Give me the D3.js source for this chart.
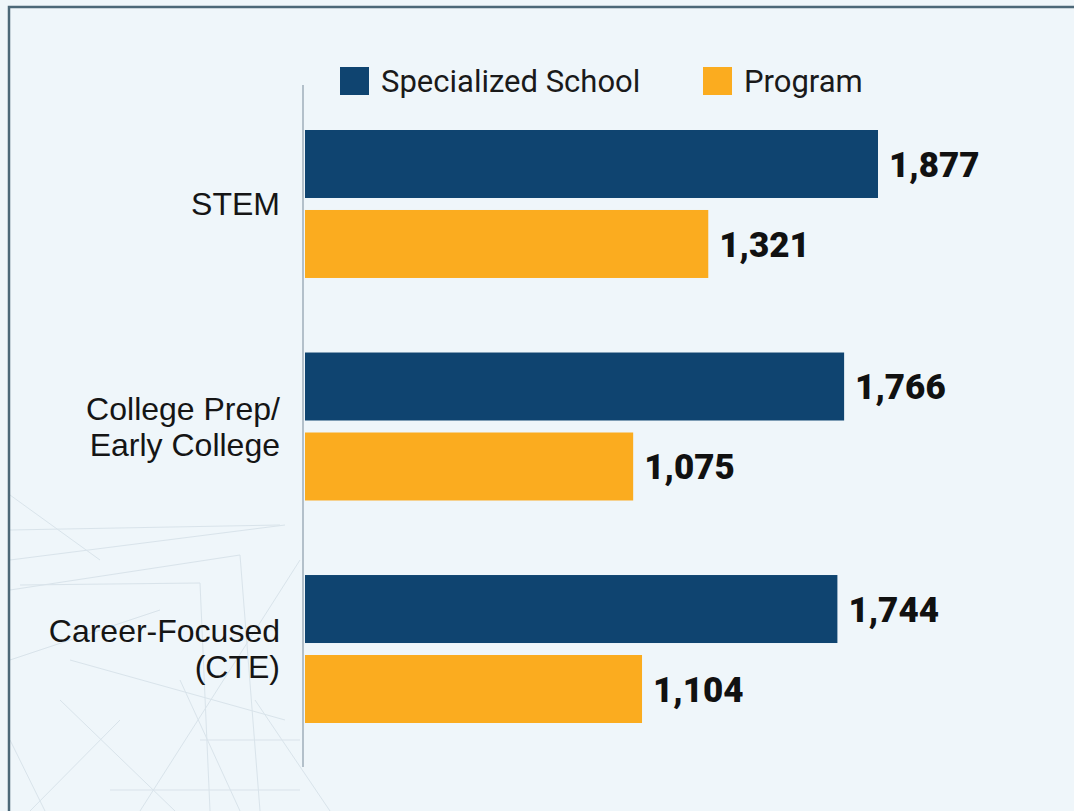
<!DOCTYPE html>
<html>
<head>
<meta charset="utf-8">
<script src="https://cdn.jsdelivr.net/npm/d3@7"></script>
<style>
  html, body { margin: 0; padding: 0; background: #eff6fa; }
  svg { display: block; }
</style>
</head>
<body>
<div id="chart"></div>
<script>
// Data
const categories = ["STEM", "College Prep/\nEarly College", "Career-Focused\n(CTE)"];
const seriesNames = ["Specialized School", "Program"];
const specializedValues = [1877, 1766, 1744];
const programValues = [1321, 1075, 1104];
const seriesColors = ["#0f4470", "#fbac1f"];

const dataset = categories.map((c, i) => ({
  category: c,
  values: [specializedValues[i], programValues[i]],
}));

// Dimensions
let dimensions = {
  width: 1074,
  height: 811,
  left: 305,
  right: 878,
  top: 130,
  bottom: 723,
};

const svg = d3
  .select("#chart")
  .append("svg")
  .attr("width", dimensions.width)
  .attr("height", dimensions.height);

// Background + frame
svg
  .append("rect")
  .attr("width", dimensions.width)
  .attr("height", dimensions.height)
  .attr("fill", "#eff6fa");

// faint decorative lines bottom-left
const deco = svg.append("g").attr("stroke", "#cbd8e1").attr("stroke-width", 1).attr("fill", "none").attr("opacity", 0.6);
[
  [[10, 495], [100, 560]], [[10, 530], [280, 525]], [[10, 560], [285, 525]],
  [[20, 585], [200, 583]], [[200, 583], [210, 811]], [[10, 590], [240, 555]],
  [[60, 700], [175, 811]], [[10, 740], [45, 811]], [[70, 660], [285, 720]],
  [[180, 680], [240, 811]], [[240, 555], [260, 811]], [[110, 790], [300, 790]],
  [[140, 811], [300, 560]], [[10, 660], [160, 610]], [[255, 700], [330, 811]],
  [[30, 811], [120, 720]], [[200, 740], [300, 740]]
].forEach((p) => deco.append("line")
  .attr("x1", p[0][0]).attr("y1", p[0][1]).attr("x2", p[1][0]).attr("y2", p[1][1]));

svg
  .append("path")
  .attr("d", "M9,820 L9,7 L1080,7")
  .attr("fill", "none")
  .attr("stroke", "#4c6878")
  .attr("stroke-width", 2.5);

// Scales
const yScale = d3
  .scaleBand()
  .domain(categories)
  .range([dimensions.top, dimensions.bottom])
  .paddingInner(0.335)
  .paddingOuter(0);

const subScale = d3
  .scaleBand()
  .domain(d3.range(seriesNames.length))
  .range([0, yScale.bandwidth()])
  .paddingInner(0.15);

const xScale = d3
  .scaleLinear()
  .domain([0, d3.max(specializedValues)])
  .range([dimensions.left, dimensions.right]);

// Axis line
svg
  .append("line")
  .attr("x1", dimensions.left - 2)
  .attr("x2", dimensions.left - 2)
  .attr("y1", 85)
  .attr("y2", 767)
  .attr("stroke", "#b3c0ca")
  .attr("stroke-width", 2);

// Bars
const groups = svg
  .selectAll(".group")
  .data(dataset)
  .join("g")
  .attr("class", "group")
  .attr("transform", (d) => `translate(0, ${yScale(d.category)})`);

groups
  .selectAll("rect")
  .data((d) => d.values)
  .join("rect")
  .attr("x", xScale(0))
  .attr("y", (d, i) => subScale(i))
  .attr("width", (d) => xScale(d) - xScale(0))
  .attr("height", subScale.bandwidth())
  .attr("fill", (d, i) => seriesColors[i]);

groups
  .selectAll(".value")
  .data((d) => d.values)
  .join("text")
  .attr("class", "value")
  .attr("x", (d) => xScale(d) + 11)
  .attr("y", (d, i) => subScale(i) + subScale.bandwidth() / 2)
  .attr("dy", "0.36em")
  .attr("font-family", "Roboto, sans-serif")
  .attr("font-weight", 900)
  .attr("font-size", 35)
  .attr("fill", "#111")
  .text((d) => d3.format(",")(d));

// Category labels
groups.each(function (d) {
  const lines = d.category.split("\n");
  const lineH = 36;
  const cy = yScale.bandwidth() / 2;
  const t = d3
    .select(this)
    .append("text")
    .attr("text-anchor", "end")
    .attr("font-family", "'Liberation Sans', Arial, sans-serif")
    .attr("font-size", 32)
    .attr("fill", "#151515");
  lines.forEach((line, i) => {
    t.append("tspan")
      .attr("x", 280)
      .attr("y", cy + (i - (lines.length - 1) / 2) * lineH)
      .attr("dy", "0.35em")
      .text(line);
  });
});

// Legend
const legendX = [340, 703];
const legend = svg
  .selectAll(".legend")
  .data(seriesNames)
  .join("g")
  .attr("class", "legend")
  .attr("transform", (d, i) => `translate(${legendX[i]}, 67)`);

legend
  .append("rect")
  .attr("width", 29)
  .attr("height", 28)
  .attr("fill", (d, i) => seriesColors[i]);

legend
  .append("text")
  .attr("x", 41)
  .attr("y", 14)
  .attr("dy", "0.36em")
  .attr("font-family", "Roboto, sans-serif")
  .attr("font-size", 31)
  .attr("fill", "#1a1a1a")
  .text((d) => d);
</script>
</body>
</html>
